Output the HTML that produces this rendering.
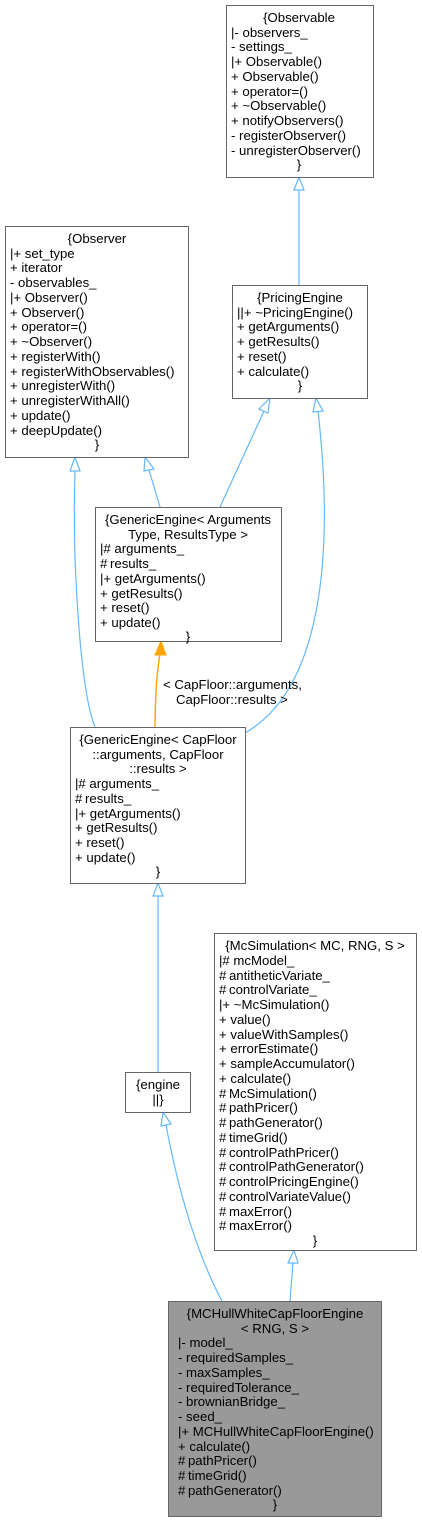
<!DOCTYPE html>
<html><head><meta charset="utf-8"><style>
html,body{margin:0;padding:0;background:#fff;}
svg text{font-family:"Liberation Sans",Arial,sans-serif;font-size:13.2px;fill:#000;}
</style></head><body>
<svg width="422" height="1523" viewBox="0 0 422 1523" xmlns="http://www.w3.org/2000/svg">
<g fill="none" stroke="#63b8ff" stroke-width="1.2">
<path d="M299,285 L299,190"/>
<path d="M160,507 L149,470"/>
<path d="M220,507 L264,411"/>
<path d="M95,727 C80,690 72,560 75,470"/>
<path d="M245,733 C320,690 335,560 318,411"/>
<path d="M158,1072 L158,896"/>
<path d="M222,1301 C200,1260 180,1200 166,1125"/>
<path d="M290,1301 L293,1263"/>
</g>
<g fill="#fff" stroke="#63b8ff" stroke-width="1.2">
<polygon points="299,177 294,190 304,190"/>
<polygon points="145,457 144,471 154,469"/>
<polygon points="270,398 259,409 268,413"/>
<polygon points="75,457 70,471 80,471"/>
<polygon points="316,398 313,412 323,411"/>
<polygon points="158,883 153,896 163,896"/>
<polygon points="163,1112 161,1126 171,1124"/>
<polygon points="294,1250 288,1263 298,1263"/>
</g>
<path d="M155,727 C155,700 157,670 160,654" fill="none" stroke="#ffa500" stroke-width="1.4"/>
<polygon points="161,641 155,655 166,655" fill="#ffa500" stroke="#ffa500"/>
<text x="163" y="689">&lt; CapFloor::arguments,</text>
<text x="176" y="704">CapFloor::results &gt;</text>

<g fill="#fff" stroke="#666" stroke-width="1">
<rect x="226.5" y="5.5" width="147" height="172"/>
<rect x="5.5" y="226.5" width="183" height="231"/>
<rect x="232.5" y="285.5" width="135" height="113"/>
<rect x="95.5" y="507.5" width="186" height="134"/>
<rect x="70.5" y="727.5" width="175" height="156"/>
<rect x="214.5" y="933.5" width="202" height="317"/>
<rect x="125.5" y="1072.5" width="65" height="40"/>
<rect x="168.5" y="1301.5" width="213" height="215" fill="#999"/>
</g>

<!-- Observable -->
<text x="299" y="22" text-anchor="middle">{Observable</text>
<text x="231" y="37">|- observers_</text>
<text x="231" y="51">- settings_</text>
<text x="231" y="66">|+ Observable()</text>
<text x="231" y="81">+ Observable()</text>
<text x="231" y="96">+ operator=()</text>
<text x="231" y="110">+ ~Observable()</text>
<text x="231" y="125">+ notifyObservers()</text>
<text x="231" y="140">- registerObserver()</text>
<text x="231" y="155">- unregisterObserver()</text>
<text x="299" y="169" text-anchor="middle">}</text>

<!-- Observer -->
<text x="97" y="243" text-anchor="middle">{Observer</text>
<text x="10" y="258">|+ set_type</text>
<text x="10" y="272">+ iterator</text>
<text x="10" y="287">- observables_</text>
<text x="10" y="302">|+ Observer()</text>
<text x="10" y="317">+ Observer()</text>
<text x="10" y="331">+ operator=()</text>
<text x="10" y="346">+ ~Observer()</text>
<text x="10" y="361">+ registerWith()</text>
<text x="10" y="376">+ registerWithObservables()</text>
<text x="10" y="390">+ unregisterWith()</text>
<text x="10" y="405">+ unregisterWithAll()</text>
<text x="10" y="420">+ update()</text>
<text x="10" y="435">+ deepUpdate()</text>
<text x="97" y="449" text-anchor="middle">}</text>

<!-- PricingEngine -->
<text x="300" y="302" text-anchor="middle">{PricingEngine</text>
<text x="237" y="317">||+ ~PricingEngine()</text>
<text x="237" y="331">+ getArguments()</text>
<text x="237" y="346">+ getResults()</text>
<text x="237" y="361">+ reset()</text>
<text x="237" y="376">+ calculate()</text>
<text x="300" y="390" text-anchor="middle">}</text>

<!-- GenericEngine Args -->
<text x="188" y="524" text-anchor="middle">{GenericEngine&lt; Arguments</text>
<text x="188" y="539" text-anchor="middle">Type, ResultsType &gt;</text>
<text x="100" y="553">|# arguments_</text>
<text x="100" y="568">#&#8201;results_</text>
<text x="100" y="583">|+ getArguments()</text>
<text x="100" y="598">+ getResults()</text>
<text x="100" y="612">+ reset()</text>
<text x="100" y="627">+ update()</text>
<text x="188" y="641" text-anchor="middle">}</text>

<!-- GenericEngine CapFloor -->
<text x="158" y="744" text-anchor="middle">{GenericEngine&lt; CapFloor</text>
<text x="158" y="759" text-anchor="middle">::arguments, CapFloor</text>
<text x="158" y="773" text-anchor="middle">::results &gt;</text>
<text x="75" y="788">|# arguments_</text>
<text x="75" y="803">#&#8201;results_</text>
<text x="75" y="818">|+ getArguments()</text>
<text x="75" y="832">+ getResults()</text>
<text x="75" y="847">+ reset()</text>
<text x="75" y="862">+ update()</text>
<text x="158" y="876" text-anchor="middle">}</text>

<!-- McSimulation -->
<text x="315" y="950" text-anchor="middle">{McSimulation&lt; MC, RNG, S &gt;</text>
<text x="219" y="965">|# mcModel_</text>
<text x="219" y="980">#&#8201;antitheticVariate_</text>
<text x="219" y="994">#&#8201;controlVariate_</text>
<text x="219" y="1009">|+ ~McSimulation()</text>
<text x="219" y="1024">+ value()</text>
<text x="219" y="1039">+ valueWithSamples()</text>
<text x="219" y="1053">+ errorEstimate()</text>
<text x="219" y="1068">+ sampleAccumulator()</text>
<text x="219" y="1083">+ calculate()</text>
<text x="219" y="1098">#&#8201;McSimulation()</text>
<text x="219" y="1112">#&#8201;pathPricer()</text>
<text x="219" y="1127">#&#8201;pathGenerator()</text>
<text x="219" y="1142">#&#8201;timeGrid()</text>
<text x="219" y="1157">#&#8201;controlPathPricer()</text>
<text x="219" y="1171">#&#8201;controlPathGenerator()</text>
<text x="219" y="1186">#&#8201;controlPricingEngine()</text>
<text x="219" y="1201">#&#8201;controlVariateValue()</text>
<text x="219" y="1216">#&#8201;maxError()</text>
<text x="219" y="1230">#&#8201;maxError()</text>
<text x="315" y="1245" text-anchor="middle">}</text>

<!-- engine -->
<text x="158" y="1089" text-anchor="middle">{engine</text>
<text x="158" y="1104" text-anchor="middle">||}</text>

<!-- MCHullWhite -->
<text x="275" y="1318" text-anchor="middle">{MCHullWhiteCapFloorEngine</text>
<text x="275" y="1333" text-anchor="middle">&lt; RNG, S &gt;</text>
<text x="178" y="1347">|- model_</text>
<text x="178" y="1362">- requiredSamples_</text>
<text x="178" y="1377">- maxSamples_</text>
<text x="178" y="1392">- requiredTolerance_</text>
<text x="178" y="1406">- brownianBridge_</text>
<text x="178" y="1421">- seed_</text>
<text x="178" y="1436">|+ MCHullWhiteCapFloorEngine()</text>
<text x="178" y="1451">+ calculate()</text>
<text x="178" y="1465">#&#8201;pathPricer()</text>
<text x="178" y="1480">#&#8201;timeGrid()</text>
<text x="178" y="1495">#&#8201;pathGenerator()</text>
<text x="275" y="1509" text-anchor="middle">}</text>
</svg>
</body></html>
